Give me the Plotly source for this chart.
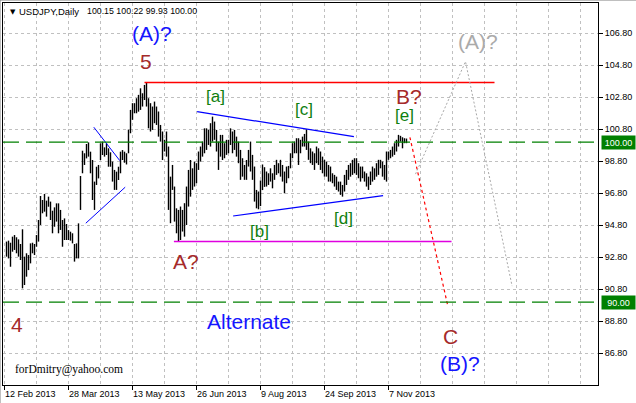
import plotly.graph_objects as go

# ---------------- data ----------------
symbol = "USDJPY,Daily"
last_ohlc = [100.15, 100.22, 99.93, 100.00]

first_bar_index = 1  # bar index of the first visible bar (12 Feb 2013 = index 0)

bar_high = [
    93.78, 93.84, 93.71, 94.09, 94.19, 94.05, 93.92, 93.63, 94.55, 92.84,
    93.05, 92.94, 93.67, 93.71, 93.63, 94.19, 95.13, 96.63, 96.38, 96.76,
    96.34, 96.59, 96.28, 95.71, 95.92, 96.17, 96.17, 95.76, 95.13, 95.23,
    94.88, 94.50, 94.40, 94.30, 93.63, 93.67, 94.92, 97.88, 99.46, 99.30,
    99.88, 99.98, 99.40, 98.88, 97.53, 98.46, 98.57, 99.92, 100.03, 99.67,
    99.92, 99.61, 99.36, 98.78, 98.26, 98.15, 98.46, 99.40, 99.50, 99.40,
    99.30, 100.78, 102.01, 102.43, 102.43, 102.74, 102.95, 103.36, 103.05, 103.57,
    103.74, 102.74, 102.43, 102.22, 102.53, 102.22, 101.91, 101.07, 100.66, 100.14,
    100.66, 99.72, 97.84, 98.57, 97.22, 95.86, 95.76, 95.97, 95.76, 96.18,
    97.22, 98.26, 98.88, 98.36, 98.78, 98.68, 99.41, 99.72, 100.03, 100.86,
    100.86, 100.76, 101.18, 101.59, 101.28, 100.76, 100.03, 100.45, 100.45, 99.93,
    100.14, 100.14, 100.86, 100.66, 100.76, 100.34, 100.03, 99.51, 98.99, 98.57,
    98.88, 99.51, 100.03, 99.20, 98.47, 97.01, 96.91, 97.60, 98.60, 98.43,
    98.16, 98.05, 98.36, 98.05, 98.57, 98.89, 98.68, 98.89, 98.57, 98.16,
    98.47, 98.51, 99.30, 99.93, 100.03, 100.24, 100.24, 100.14, 100.34, 100.51,
    100.80, 100.03, 99.61, 99.41, 99.30, 99.72, 99.61, 99.41, 99.09, 98.89,
    98.78, 98.57, 98.47, 98.05, 97.95, 97.84, 97.53, 97.53, 97.32, 97.95,
    98.26, 98.57, 98.68, 98.89, 98.99, 98.99, 98.68, 98.47, 98.47, 98.16,
    98.05, 97.84, 98.16, 98.47, 98.36, 98.68, 98.89, 98.89, 98.78, 98.57,
    99.41, 99.41, 99.51, 99.72, 99.93, 100.14, 100.45, 100.39, 100.30, 100.24,
    100.22,
]
bar_low = [
    92.84, 92.73, 92.21, 93.15, 93.26, 93.05, 92.84, 92.63, 90.86, 91.07,
    91.59, 92.00, 92.42, 93.05, 92.94, 93.46, 93.78, 94.82, 95.55, 95.65,
    95.34, 95.96, 95.13, 94.30, 94.71, 95.03, 94.30, 94.51, 93.46, 93.88,
    93.88, 93.88, 93.84, 93.67, 92.53, 92.73, 92.73, 95.76, 98.05, 98.57,
    98.98, 99.09, 98.05, 96.38, 95.76, 97.32, 97.73, 98.88, 99.19, 99.09,
    99.19, 98.46, 98.46, 97.53, 97.01, 97.01, 97.63, 98.05, 98.88, 98.71,
    98.60, 99.30, 100.55, 101.39, 101.80, 101.80, 101.90, 102.01, 102.22, 102.63,
    102.22, 100.86, 100.66, 100.76, 101.18, 101.07, 100.34, 100.03, 98.88, 99.41,
    99.09, 95.76, 94.93, 97.01, 95.03, 94.30, 93.78, 93.88, 94.41, 94.09,
    94.82, 95.97, 96.59, 97.01, 97.22, 97.43, 98.26, 98.78, 99.09, 99.30,
    99.51, 99.82, 99.72, 100.03, 100.14, 99.41, 98.26, 99.09, 98.88, 98.99,
    99.20, 99.30, 99.82, 99.30, 99.51, 99.09, 98.68, 97.64, 97.84, 97.64,
    97.64, 98.47, 98.16, 97.64, 96.28, 95.86, 95.80, 96.00, 97.00, 97.20,
    97.22, 97.32, 97.53, 97.11, 97.64, 97.95, 98.05, 97.84, 97.53, 96.80,
    97.43, 97.74, 98.36, 98.99, 99.30, 99.30, 98.57, 99.30, 99.72, 99.72,
    99.51, 98.89, 98.68, 98.57, 98.26, 98.68, 98.57, 98.26, 98.05, 97.84,
    97.84, 97.53, 97.53, 97.43, 97.22, 97.01, 96.91, 96.70, 96.59, 96.91,
    97.32, 97.64, 97.84, 97.95, 98.05, 97.95, 97.74, 97.53, 97.74, 97.53,
    97.22, 97.01, 97.32, 97.53, 97.64, 97.84, 97.95, 98.36, 97.84, 97.64,
    97.53, 98.89, 98.99, 99.09, 99.20, 99.41, 99.72, 100.03, 99.61, 99.93,
    99.93,
]

date_tick_index = [0, 32, 64, 96, 128, 160, 192]
date_tick_text = ["12 Feb 2013", "28 Mar 2013", "13 May 2013", "26 Jun 2013",
                  "9 Aug 2013", "24 Sep 2013", "7 Nov 2013"]
price_ticks = [86.8, 88.8, 90.8, 92.8, 94.8, 96.8, 98.8, 100.8, 102.8, 104.8, 106.8]

# drawn objects: (bar index, price) pairs
high_level_x, high_level_y = [70, 245], [103.73, 103.73]
low_level_x, low_level_y = [84.7, 223.5], [93.78, 93.78]
tri_upper_x, tri_upper_y = [96.3, 174.7], [101.9, 100.34]
tri_lower_x, tri_lower_y = [114.3, 189.3], [95.38, 96.65]
flag_upper_x, flag_upper_y = [44.65, 57.65], [100.93, 98.84]
flag_lower_x, flag_lower_y = [40.65, 60.35], [94.93, 97.18]
main_path_x, main_path_y = [202.7, 221.8], [100.3, 89.68]
alt_path_x, alt_path_y = [205.5, 230.5, 253.8], [98.0, 105.03, 91.0]
hlines = [100.00, 90.00]

# wave labels: (text, bar index, price, colour key, size key)
wave_labels = [
    ("(A)?", 73.75, 106.79, "blue", "big"),
    ("5", 70.75, 105.04, "brown", "big"),
    ("A?", 90.5, 92.51, "brown", "big"),
    ("B?", 202.0, 102.85, "brown", "big"),
    ("4", 6.25, 88.63, "brown", "big"),
    ("C", 222.75, 87.88, "brown", "big"),
    ("(B)?", 227.5, 86.19, "blue", "big"),
    ("Alternate", 122.0, 88.76, "blue", "big"),
    ("(A)?", 236.5, 106.26, "gray", "big"),
    ("[a]", 105.5, 102.84, "green", "small"),
    ("[b]", 127.5, 94.40, "green", "small"),
    ("[c]", 149.5, 102.01, "green", "small"),
    ("[d]", 169.5, 95.24, "green", "small"),
    ("[e]", 199.75, 101.63, "green", "small"),
]

# ---------------- figure ----------------
FONT = "Liberation Sans, Arial, sans-serif"
colors = {"blue": "#1515ff", "brown": "#a52a2a", "gray": "#aaaaaa", "green": "#108010"}
sizes = {"big": 21, "small": 17}
GRID = "#c0c0c0"

fig = go.Figure()

# high-low bars
bx, by = [], []
for k, (h, l) in enumerate(zip(bar_high, bar_low)):
    i = first_bar_index + k
    bx += [i, i, None]
    by += [l, h, None]
fig.add_trace(go.Scatter(x=bx, y=by, mode="lines", line=dict(color="black", width=1.4),
                         hoverinfo="skip"))

def seg(x, y, color, width=1, dash="solid"):
    fig.add_trace(go.Scatter(x=x, y=y, mode="lines",
                             line=dict(color=color, width=width, dash=dash), hoverinfo="skip"))

seg(high_level_x, high_level_y, "#ff0000", 1.5)
seg(low_level_x, low_level_y, "#e000e0", 1.5)
seg(tri_upper_x, tri_upper_y, "#0000ff", 1.2)
seg(tri_lower_x, tri_lower_y, "#0000ff", 1.2)
seg(flag_upper_x, flag_upper_y, "#0000ff", 1)
seg(flag_lower_x, flag_lower_y, "#0000ff", 1)
seg(main_path_x, main_path_y, "#ff0000", 1.2, "3px,3px")
seg(alt_path_x, alt_path_y, "#a8a8a8", 1, "2px,2px")

for lv in hlines:
    fig.add_hline(y=lv, line=dict(color="#008000", width=1.2, dash="16px,7px"))
    fig.add_annotation(x=1, xref="paper", y=lv, yref="y", xanchor="left", yanchor="middle",
                       xshift=3, text=f"{lv:.2f}", showarrow=False, width=31, height=11,
                       font=dict(family=FONT, size=9, color="white"),
                       bgcolor="#008000", borderpad=1)

for text, xi, pr, ck, sk in wave_labels:
    fig.add_annotation(x=xi, y=pr, text=text, showarrow=False, xanchor="center", yanchor="middle",
                       font=dict(family=FONT, size=sizes[sk], color=colors[ck]))

fig.add_annotation(x=4, y=85.76, text="forDmitry@yahoo.com", showarrow=False, xanchor="left",
                   yanchor="middle", font=dict(family="Liberation Serif, Times New Roman, serif",
                                               size=11.5, color="black"))

# header
fig.add_annotation(x=0, xref="paper", y=1, yref="paper", xanchor="left", yanchor="top",
                   xshift=5, yshift=-3, showarrow=False, text="▼",
                   font=dict(family="DejaVu Sans", size=7, color="black"))
fig.add_annotation(x=0, xref="paper", y=1, yref="paper", xanchor="left", yanchor="top",
                   xshift=14, yshift=-1, showarrow=False, text=symbol,
                   font=dict(family=FONT, size=9.5, color="black"))
fig.add_annotation(x=0, xref="paper", y=1, yref="paper", xanchor="left", yanchor="top",
                   xshift=82, yshift=-1, showarrow=False,
                   text=" ".join(f"{v:.2f}" for v in last_ohlc),
                   font=dict(family=FONT, size=8.8, color="black"))

# date labels (left-aligned at their ticks, MT4 style)
for xi, t in zip(date_tick_index, date_tick_text):
    fig.add_annotation(x=xi, y=0, yref="paper", xanchor="left", yanchor="top", yshift=-2,
                       xshift=-2, text=t, showarrow=False,
                       font=dict(family=FONT, size=9, color="black"))

fig.update_layout(
    width=636, height=403, margin=dict(l=3, r=38, t=3, b=18),
    paper_bgcolor="white", plot_bgcolor="white", showlegend=False,
    xaxis=dict(range=[-0.75, 296.75], tickmode="array", tickvals=date_tick_index,
               showticklabels=False, ticks="outside", ticklen=4, tickcolor="black",
               showgrid=False, zeroline=False, showline=True, linecolor="black",
               linewidth=1, mirror=True,
               minor=dict(tickmode="linear", tick0=0, dtick=16, showgrid=True,
                          gridcolor=GRID, griddash="3px,3px", gridwidth=1, ticks="")),
    yaxis=dict(range=[84.82, 108.69], side="right", tickmode="array", tickvals=price_ticks,
               ticktext=[f"{v:.2f}" for v in price_ticks], ticks="outside", ticklen=4,
               tickcolor="black", tickfont=dict(family=FONT, size=9, color="black"),
               showgrid=True, gridcolor=GRID, griddash="3px,3px", gridwidth=1,
               zeroline=False, showline=True, linecolor="black", linewidth=1, mirror=True),
)

# outer window border (top and left)
fig.add_shape(type="line", xref="paper", yref="paper", x0=-3/595, x1=1.1, y0=1+3/382, y1=1+3/382,
              line=dict(color="#808080", width=1))
fig.add_shape(type="line", xref="paper", yref="paper", x0=-3/595, x1=-3/595, y0=-0.1, y1=1+3/382,
              line=dict(color="#808080", width=1))

fig.write_html("out.html", config={"displayModeBar": False},
               post_script="document.body.style.margin='0';")
